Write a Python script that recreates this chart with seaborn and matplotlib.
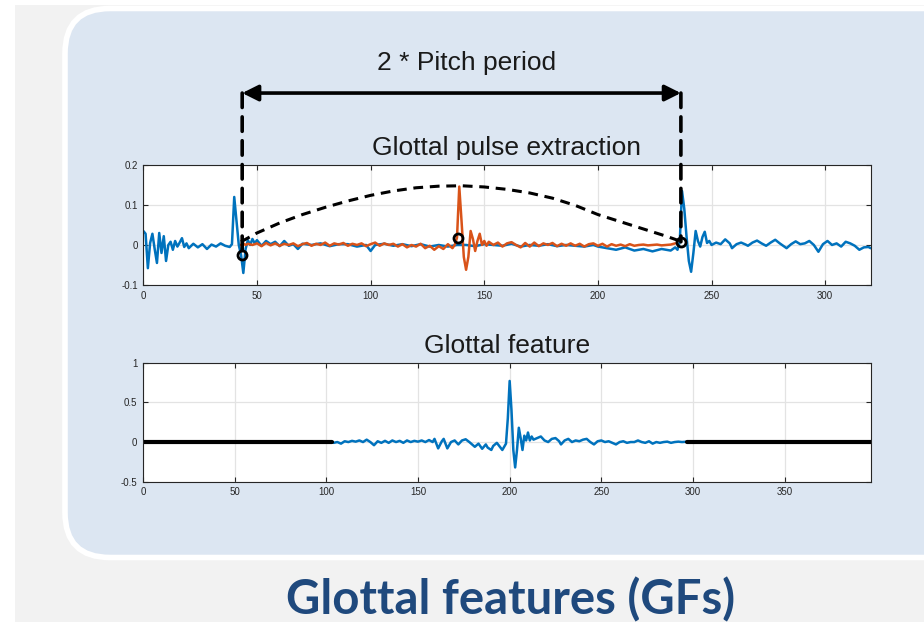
import matplotlib
matplotlib.use('Agg')
import matplotlib.pyplot as plt
import seaborn as sns
from matplotlib.patches import FancyBboxPatch, Rectangle, ConnectionPatch
from matplotlib.transforms import blended_transform_factory

# ---------------- values ----------------
# top panel: speech residual (blue) and one extracted glottal period (orange)
speech_x = [0, 1, 2, 3, 4, 5, 6, 7, 8, 9, 10, 11, 12, 13, 14, 15, 16, 17, 18, 19,
            20, 22, 24, 26, 28, 30, 32, 34, 36, 38, 39, 40, 41, 42, 43, 44, 45, 46, 47, 48,
            49, 50, 52, 54, 56, 58, 60, 62, 64, 66, 68, 70, 74, 78, 82, 86, 90, 94, 98, 100,
            102, 106, 110, 114, 118, 122, 126, 130, 134, 138, 142, 146, 150, 154, 158, 162, 166, 170, 174, 178,
            182, 186, 190, 194, 198, 200, 204, 208, 212, 216, 220, 224, 228, 232, 234, 235, 236, 237, 238, 239,
            240, 241, 242, 243, 244, 245, 246, 247, 248, 249, 250, 252, 254, 256, 258, 259, 261, 263, 265, 266,
            268, 270, 272, 274, 276, 278, 280, 283, 285, 287, 289, 291, 293, 295, 297, 299, 301, 303, 305, 307,
            309, 311, 313, 315, 317, 319, 320]
speech_y = [0.035, 0.028, -0.058, 0.005, 0.028, -0.010, -0.045, 0.030, -0.020, 0.022,
            -0.040, 0.000, 0.008, -0.012, 0.010, -0.004, 0.006, 0.017, -0.005, 0.004,
            -0.008, 0.003, -0.006, 0.002, -0.010, 0.001, -0.004, 0.004, -0.002, -0.005,
            0.002, 0.120, 0.060, 0.000, -0.025, -0.070, -0.010, 0.012, 0.000, 0.015,
            0.004, 0.012, -0.002, 0.010, 0.002, 0.008, -0.003, 0.010, -0.002, 0.002,
            -0.010, 0.003, 0.000, 0.004, -0.003, 0.002, 0.002, -0.004, 0.000, -0.015,
            0.000, 0.003, -0.002, 0.002, -0.003, 0.002, -0.004, 0.000, -0.004, 0.000,
            0.000, -0.003, 0.002, 0.000, -0.002, 0.003, -0.004, 0.000, -0.002, 0.002,
            -0.003, 0.000, -0.002, -0.004, 0.000, -0.004, -0.008, -0.012, -0.006, -0.014,
            -0.010, -0.016, -0.010, -0.014, -0.006, -0.012, 0.008, 0.135, 0.090, 0.020,
            -0.040, -0.067, -0.020, 0.035, 0.010, -0.004, 0.020, 0.033, 0.005, 0.010,
            0.000, 0.006, 0.002, 0.014, 0.004, -0.008, 0.002, 0.006, 0.001, -0.002,
            0.006, 0.011, 0.004, -0.002, 0.006, 0.013, 0.004, -0.008, 0.002, 0.009,
            0.002, 0.004, 0.010, 0.000, -0.017, 0.002, 0.010, 0.000, 0.004, -0.004,
            0.008, 0.004, -0.002, -0.012, -0.006, -0.005, -0.008]

period_x = [43, 44, 45, 46, 48, 50, 52, 54, 56, 58, 60, 62, 64, 66, 68, 70, 72, 74, 76, 78,
            80, 82, 84, 86, 88, 90, 92, 94, 96, 98, 100, 102, 104, 106, 108, 110, 112, 114, 116, 118,
            120, 122, 124, 126, 128, 130, 132, 134, 136, 137, 138, 139, 140, 141, 142, 143, 144, 145, 146, 147,
            148, 149, 150, 151, 152, 154, 156, 158, 160, 162, 164, 166, 168, 170, 172, 174, 176, 178, 180, 182,
            184, 186, 188, 190, 192, 194, 196, 198, 200, 202, 204, 206, 208, 210, 212, 214, 216, 218, 220, 222,
            224, 226, 228, 230, 232, 234]
period_y = [0.000, 0.004, 0.000, 0.003, 0.000, 0.004, -0.003, 0.005, -0.001, 0.004,
            -0.002, 0.003, 0.000, 0.004, -0.003, 0.002, 0.005, -0.002, 0.003, 0.000,
            0.006, -0.002, 0.004, 0.001, 0.005, -0.002, 0.003, 0.000, 0.004, -0.003,
            0.002, 0.006, -0.002, 0.004, 0.000, 0.003, -0.004, 0.002, -0.006, 0.000,
            -0.004, 0.003, -0.008, -0.002, -0.012, -0.003, -0.010, 0.002, -0.008, 0.000,
            0.018, 0.146, 0.060, -0.030, -0.062, -0.030, 0.035, 0.015, -0.015, 0.010,
            0.028, 0.000, 0.010, -0.002, 0.008, 0.000, 0.006, -0.004, 0.004, 0.007,
            0.000, -0.006, 0.005, -0.004, 0.006, -0.003, 0.004, 0.000, 0.005, -0.003,
            0.003, -0.002, 0.004, -0.002, 0.003, -0.004, 0.002, 0.004, -0.002, 0.003,
            -0.004, 0.002, -0.002, 0.001, -0.003, 0.002, -0.002, 0.000, 0.001, -0.001,
            0.000, 0.001, -0.001, 0.000, 0.001, 0.004]

# dashed window drawn over the period
window_x = [43, 50, 60, 70, 80, 90, 100, 110, 120, 130, 140, 150, 160, 170, 180, 190, 200, 210, 220, 230, 236]
window_y = [0.008, 0.030, 0.055, 0.076, 0.094, 0.110, 0.124, 0.135, 0.143, 0.147, 0.148, 0.145,
            0.139, 0.130, 0.117, 0.099, 0.076, 0.058, 0.040, 0.022, 0.010]

# pitch marks (black circles)
mark_x = [43.5, 138.5, 236.5]
mark_y = [-0.025, 0.018, 0.008]

# bottom panel: glottal feature (blue) and zero padding (black)
feat_x = [103, 104, 106, 108, 110, 112, 114, 116, 118, 120, 122, 124, 126, 128, 130, 132, 134, 136, 138, 140,
          142, 144, 146, 148, 150, 152, 154, 156, 158, 159, 161, 163, 164, 166, 168, 170, 172, 174, 176, 178,
          180, 181, 183, 185, 187, 188, 190, 191, 193, 195, 196, 198, 199, 200, 201, 202, 203, 204, 205, 206,
          207, 208, 209, 210, 211, 212, 213, 215, 217, 219, 221, 223, 225, 227, 228, 230, 232, 234, 236, 238,
          240, 242, 244, 246, 248, 250, 252, 254, 256, 258, 260, 262, 264, 266, 268, 270, 272, 274, 276, 278,
          280, 282, 284, 286, 288, 290, 292, 294, 296, 297]
feat_y = [0.000, -0.010, 0.000, -0.020, 0.010, 0.000, 0.015, 0.005, 0.020, 0.000,
          0.030, 0.000, -0.040, 0.010, -0.010, 0.015, -0.010, 0.020, 0.000, 0.015,
          -0.010, 0.020, 0.000, 0.015, 0.005, 0.020, 0.000, 0.025, 0.000, 0.040,
          -0.080, 0.010, 0.040, -0.080, 0.000, 0.020, -0.030, 0.020, 0.035, 0.000,
          -0.040, -0.060, -0.020, -0.085, -0.030, -0.070, -0.100, -0.050, -0.010, -0.070,
          -0.100, -0.020, 0.300, 0.770, 0.400, -0.100, -0.320, -0.100, 0.180, 0.050,
          -0.100, 0.080, 0.020, 0.120, 0.020, 0.070, 0.030, 0.050, 0.070, 0.020,
          0.000, 0.040, 0.050, 0.010, -0.030, 0.020, 0.040, 0.000, 0.020, 0.010,
          0.030, 0.040, 0.000, -0.030, 0.010, 0.020, 0.000, 0.010, -0.010, -0.030,
          0.000, 0.010, -0.010, 0.000, 0.000, 0.020, 0.000, -0.010, 0.010, -0.020,
          0.000, -0.010, 0.000, 0.005, -0.010, 0.000, 0.005, 0.000, 0.003, 0.000]
pad_left_x = [0, 103]
pad_right_x = [297, 397]
pad_y = [0, 0]

top_xticks = [0, 50, 100, 150, 200, 250, 300]
top_yticks = [-0.1, 0, 0.1, 0.2]
top_ylabels = ['-0.1', '0', '0.1', '0.2']
bot_xticks = [0, 50, 100, 150, 200, 250, 300, 350]
bot_yticks = [-0.5, 0, 0.5, 1]
bot_ylabels = ['-0.5', '0', '0.5', '1']

BLUE = '#0072BD'
ORANGE = '#D95319'

# ---------------- figure ----------------
sns.set_theme(style='whitegrid')
plt.rcParams['font.family'] = ['Liberation Sans', 'DejaVu Sans']

fig = plt.figure(figsize=(9.24, 6.33), dpi=100)
fig.patch.set_facecolor('white')

# slide background (inch coordinates so that the rounding stays circular)
fig.add_artist(Rectangle((0.15, 0.11), 9.2, 6.17, transform=fig.dpi_scale_trans,
                         facecolor='#f2f2f2', edgecolor='none', zorder=-3))
fig.add_artist(FancyBboxPatch((0.65, 0.755), 9.2, 5.49, transform=fig.dpi_scale_trans,
                              boxstyle='round,pad=0,rounding_size=0.45',
                              facecolor='#dce6f2', edgecolor='white', linewidth=4, zorder=-2))

ax1 = fig.add_axes([0.1551, 0.5498, 0.7872, 0.1896])
ax2 = fig.add_axes([0.1548, 0.2390, 0.7876, 0.1880])


def matlab_axes(ax, xlim, ylim, xticks, yticks, ylabels):
    ax.set_facecolor('white')
    ax.set_xlim(*xlim)
    ax.set_ylim(*ylim)
    ax.set_xticks(xticks)
    ax.set_xticklabels([str(t) for t in xticks])
    ax.set_yticks(yticks)
    ax.set_yticklabels(ylabels)
    ax.grid(True, color='#e3e3e3', linewidth=0.9)
    ax.tick_params(direction='in', length=3.5, width=0.8, colors='#262626',
                   labelsize=7, top=True, right=True, left=True, bottom=True, pad=4)
    for sp in ax.spines.values():
        sp.set_visible(True)
        sp.set_color('#262626')
        sp.set_linewidth(0.8)
    ax.set_xlabel('')
    ax.set_ylabel('')


# top panel
sns.lineplot(x=speech_x, y=speech_y, ax=ax1, color=BLUE, linewidth=1.8, estimator=None, sort=False)
sns.lineplot(x=period_x, y=period_y, ax=ax1, color=ORANGE, linewidth=1.8, estimator=None, sort=False)
sns.lineplot(x=window_x, y=window_y, ax=ax1, color='black', linewidth=2.2, estimator=None, sort=False)
ax1.lines[-1].set_dashes((3.2, 2.2))
ax1.plot(mark_x, mark_y, 'o', mfc='none', mec='black', mew=2, ms=6.5, zorder=5)
matlab_axes(ax1, (0, 320), (-0.1, 0.2), top_xticks, top_yticks, top_ylabels)
ax1.set_title('Glottal pulse extraction', fontsize=19, pad=7, color='#1a1a1a')

# bottom panel
sns.lineplot(x=feat_x, y=feat_y, ax=ax2, color=BLUE, linewidth=1.8, estimator=None, sort=False)
sns.lineplot(x=pad_left_x, y=pad_y, ax=ax2, color='black', linewidth=3, estimator=None)
sns.lineplot(x=pad_right_x, y=pad_y, ax=ax2, color='black', linewidth=3, estimator=None)
matlab_axes(ax2, (0, 397), (-0.5, 1), bot_xticks, bot_yticks, bot_ylabels)
ax2.set_title('Glottal feature', fontsize=19, pad=7, color='#1a1a1a')

# 2 * pitch period annotation: arrow in figure space, x bound to the first/last pitch mark
arrow_y = 0.853
blend = blended_transform_factory(ax1.transData, fig.transFigure)
ax1.annotate('', xy=(mark_x[-1], arrow_y), xycoords=blend,
             xytext=(mark_x[0], arrow_y), textcoords=blend,
             arrowprops=dict(arrowstyle='<|-|>,head_length=0.8,head_width=0.4',
                             lw=2.6, color='black', shrinkA=0, shrinkB=0),
             annotation_clip=False)
for mx, my in [(mark_x[0], mark_y[0]), (mark_x[-1], mark_y[-1])]:
    con = ConnectionPatch(xyA=(mx, arrow_y), coordsA=blend, xyB=(mx, my), coordsB=ax1.transData,
                          color='black', linewidth=2.6, linestyle=(0, (4, 2.6)), zorder=6)
    fig.add_artist(con)

fig.text(0.505, 0.900, '2 * Pitch period', ha='center', va='center', fontsize=19, color='#1a1a1a')

fig.text(0.553, 0.052, 'Glottal features (GFs)', ha='center', va='center',
         fontsize=34, fontweight='bold', color='#1f497d', family=['Lato', 'DejaVu Sans'])

plt.savefig('out.png', dpi=100)
